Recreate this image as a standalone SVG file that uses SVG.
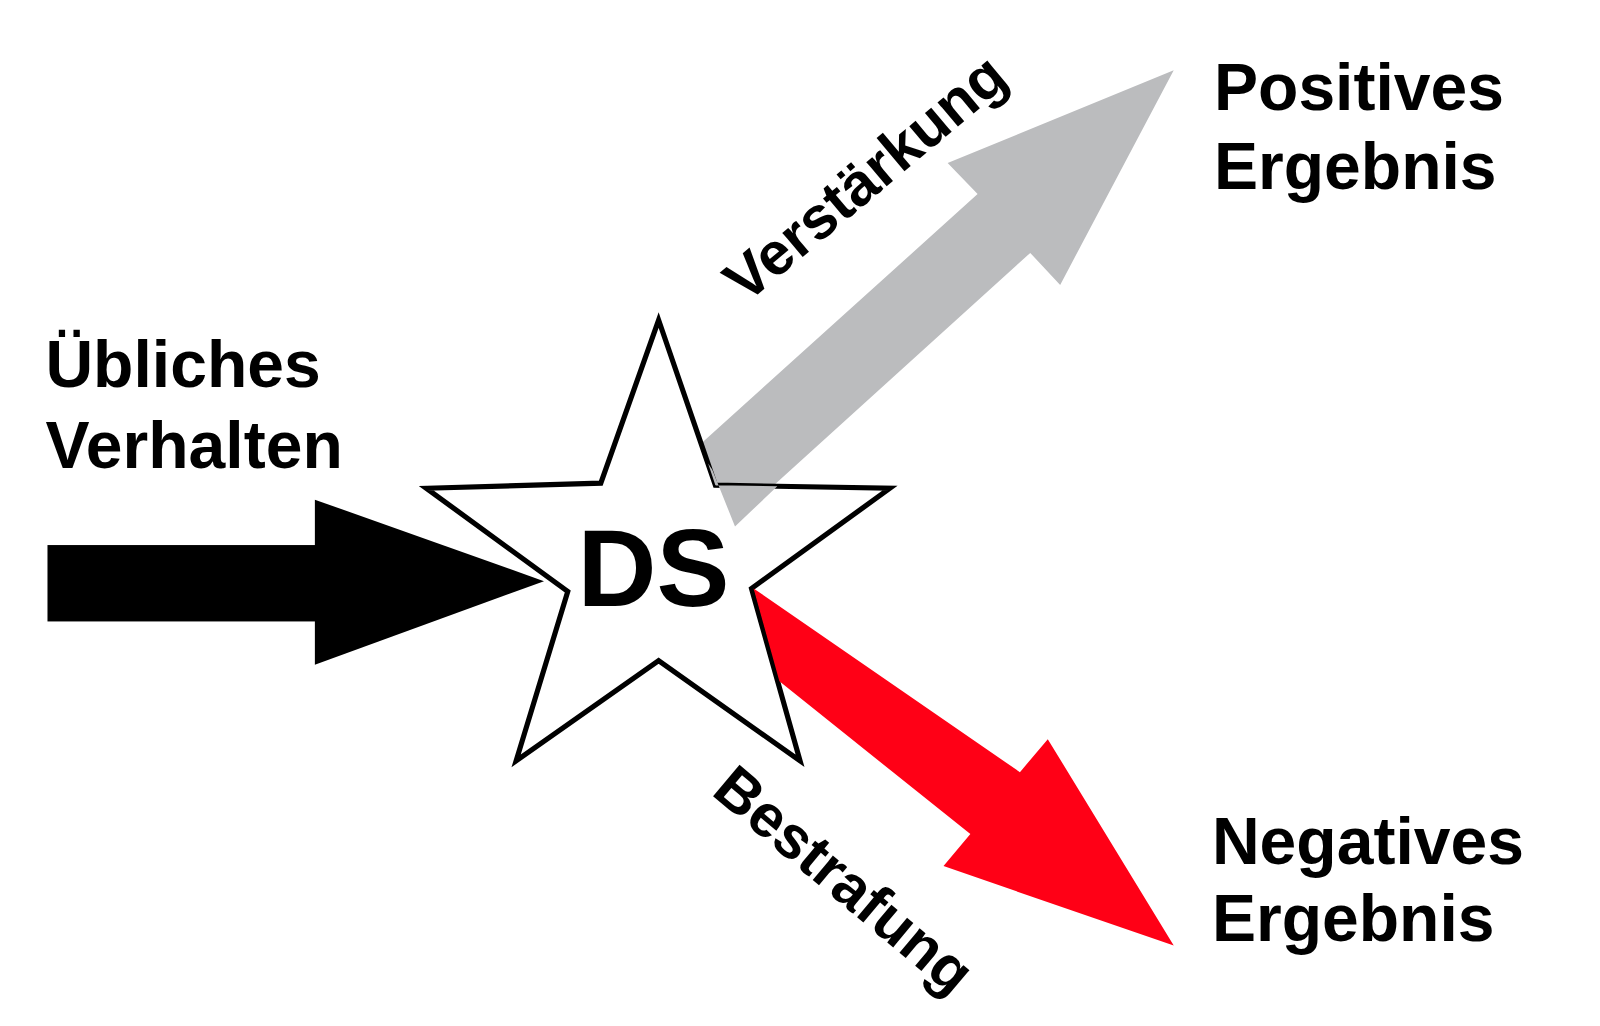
<svg xmlns="http://www.w3.org/2000/svg" width="1600" height="1026" viewBox="0 0 1600 1026">
<style>
text{font-family:"Liberation Sans",Arial,sans-serif;font-weight:bold;fill:#000}
.lbl{font-size:64px}
.arr{font-size:58px}
</style>
<rect width="1600" height="1026" fill="#fff"/>
<g transform="scale(1.0323)">
<g id="connectors">
<polygon id="gray" fill="#bbbcbe" points="640,465 947,188 918,158 1137,68 1027,276 998,245 700,515"/>
<g id="black"><rect x="46" y="528" width="260" height="74" fill="#000"/><polygon fill="#000" points="305,484 527,563 305,644"/></g>
</g>
<g id="star">
<polygon fill="#fff" stroke="#000" stroke-width="5" stroke-linejoin="miter" points="638,310 693,470 862,473 728,570 775,737 638,640 500,737 550,573 413,473 582,468"/>
<polygon fill="#bbbcbe" points="686,449 693,470 753,471 712,510 690,455"/>
<text x="633" y="587" font-size="106" text-anchor="middle">DS</text>
</g>
<polygon id="red" fill="#ff0016" points="730,570 988,748 1015,716 1137,916 914,839 940,808 755,660"/>
<text class="arr" transform="translate(838,172) rotate(-40)" text-anchor="middle" dy="20">Verstärkung</text>
<text class="arr" transform="translate(818,852) rotate(40)" text-anchor="middle" dy="20">Bestrafung</text>
<g id="n1"><text class="lbl" x="44" y="375">Übliches</text><text class="lbl" x="44" y="453">Verhalten</text></g>
<g id="n2"><text class="lbl" x="1176" y="107">Positives</text><text class="lbl" x="1176" y="183">Ergebnis</text></g>
<g id="n3"><text class="lbl" x="1174" y="837">Negatives</text><text class="lbl" x="1174" y="912">Ergebnis</text></g>
</g>
</svg>
